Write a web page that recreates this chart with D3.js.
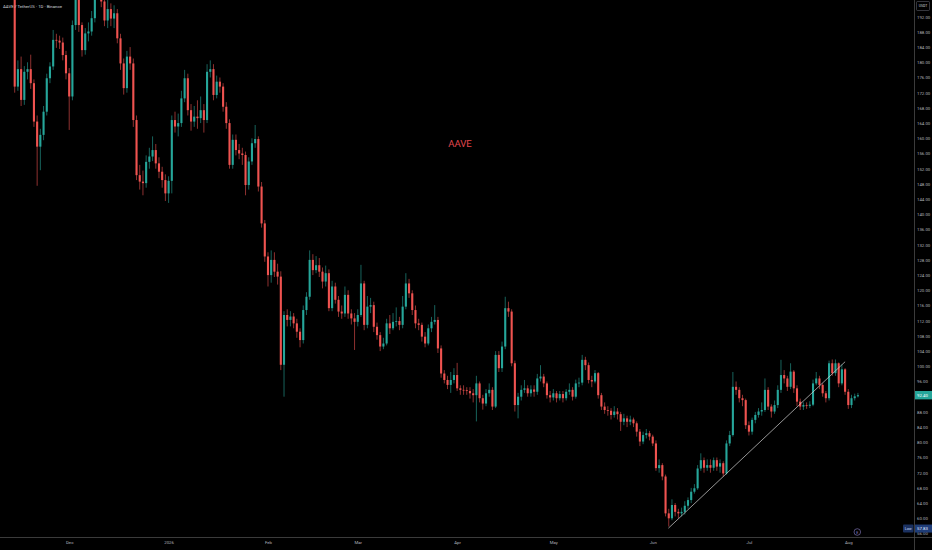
<!DOCTYPE html>
<html>
<head>
<meta charset="utf-8">
<script src="https://cdn.jsdelivr.net/npm/d3@7"></script>
<style>
  body { margin: 0; background: #000; }
  svg { display: block; }
</style>
</head>
<body>
<svg id="chart"></svg>
<script>
//daily candles, first candle is Nov 14 2025, open of each candle = previous close
let startDay = new Date(Date.UTC(2025, 10, 14));
let firstOpen = 200;

let closes = [
  //nov
  173.6,178.2,170.1,177.5,178.2,174.5,164.4,157.8,160.9,167.0,175.8,178.9,185.9,185.7,185.2,181.9,177.1,
  //dec
  171.0,189.8,197.0,189.8,183.2,187.6,188.1,191.6,199.0,203.0,196.0,191.0,194.0,191.5,192.9,186.3,179.7,173.2,181.5,179.7,164.8,150.3,148.6,148.2,153.8,155.2,156.9,153.4,151.2,149.0,145.5,
  //jan
  148.8,164.8,163.1,164.0,170.5,175.8,167.4,164.4,165.7,165.3,167.4,164.8,177.5,178.2,171.4,174.9,173.6,168.3,164.0,153.0,159.6,156.9,156.0,155.6,147.7,153.9,158.7,159.8,147.3,137.6,128.9,
  //feb
  124.0,128.0,124.9,123.6,100.4,113.5,112.2,113.1,111.3,109.1,106.9,114.8,118.3,128.0,125.3,126.6,124.9,122.3,124.5,115.3,121.0,117.5,114.4,113.9,118.8,113.9,112.6,111.7,
  //mar
  113.5,121.8,110.9,115.7,116.1,110.4,108.2,105.2,106.0,111.3,110.0,111.7,111.9,110.9,115.7,121.8,119.2,114.8,111.3,110.9,107.8,106.0,110.0,111.7,112.2,104.7,98.1,96.4,95.1,96.4,97.7,
  //apr
  94.2,93.8,93.7,93.5,92.9,92.4,95.5,91.6,90.2,92.9,93.8,89.4,103.0,99.5,105.2,115.3,114.4,100.8,89.8,92.0,93.8,94.2,92.9,93.9,93.3,96.8,97.3,95.5,92.4,91.8,
  //may
  92.9,91.6,92.7,91.6,93.3,93.8,92.0,95.5,95.7,101.7,100.3,96.4,96.0,98.2,92.4,89.4,88.5,88.3,87.2,88.1,87.4,85.4,86.3,85.4,86.0,85.0,82.8,80.2,81.9,82.4,81.5,
  //jun
  79.7,73.2,74.0,71.0,61.3,60.0,63.5,61.7,61.3,61.7,63.3,64.8,67.0,67.9,73.1,75.3,73.3,74.0,73.3,75.3,73.6,74.5,71.8,79.7,81.9,94.6,93.8,91.6,91.1,84.5,
  //jul
  82.8,85.9,87.2,88.1,88.5,93.8,89.4,88.1,89.8,93.8,97.7,96.8,94.6,98.6,94.2,90.7,89.4,89.8,89.6,89.9,95.5,96.8,95.1,92.9,91.6,100.8,98.2,100.8,95.5,99.2,93.3,
  //aug
  89.8,91.6,92.1,92.4
];

let highs = [
  202,180.5,181.5,179.0,180.0,182.0,175.5,166.0,162.5,168.5,177.0,180.0,188.5,187.5,187.0,186.5,183.0,
  178.5,191.0,199.5,199.0,190.5,189.0,190.5,193.5,201.0,206.0,204.0,197.5,196.5,195.5,195.0,194.0,187.5,181.0,183.0,184.0,181.0,166.0,153.0,151.5,155.5,157.5,160.5,158.5,155.0,152.5,150.5,
  150.0,166.0,167.0,166.5,172.5,178.0,177.0,169.0,168.5,170.0,171.0,169.0,179.5,180.5,179.5,176.5,176.0,174.5,169.5,165.0,161.0,161.0,158.5,157.5,156.5,155.0,160.0,163.5,160.5,148.5,138.5,
  130.0,130.5,130.0,127.0,125.0,114.5,115.0,114.5,114.0,112.5,110.0,116.0,119.5,130.5,129.5,129.0,128.5,126.0,126.5,125.5,122.5,122.0,118.5,116.0,121.0,120.0,115.0,114.0,
  115.0,126.7,122.5,118.5,118.0,117.0,111.5,109.0,107.5,112.5,113.5,114.0,115.5,113.0,118.5,124.5,123.0,120.0,116.0,112.5,111.5,109.0,111.0,113.0,116.1,113.0,105.5,99.0,97.5,98.5,99.5,
  100.9,95.0,95.0,94.5,94.5,94.0,97.5,96.0,92.5,94.0,95.5,94.5,104.0,104.0,106.5,118.3,117.0,115.0,101.5,93.0,95.0,96.4,95.0,95.0,95.0,98.0,100.3,98.0,96.0,93.5,
  94.0,93.5,93.5,93.5,94.0,95.5,94.5,96.5,97.0,103.0,102.5,101.0,97.5,99.0,98.5,93.0,90.5,89.5,89.0,89.5,89.0,88.0,87.5,87.0,87.0,86.5,85.5,83.5,82.8,83.5,83.0,
  82.0,80.5,75.5,74.5,71.5,62.5,65.0,64.0,62.5,62.8,64.5,65.5,68.0,69.0,74.0,77.1,76.0,75.5,75.5,76.0,76.0,75.5,75.0,80.5,83.0,98.5,96.0,94.5,92.5,91.5,
  85.5,86.5,88.0,89.0,90.5,96.8,94.5,90.0,91.0,95.0,101.7,99.0,97.5,100.8,99.0,95.0,91.5,90.5,90.5,90.8,96.5,98.5,97.5,95.5,93.5,101.5,101.8,101.8,101.0,100.5,99.5,
  94.0,92.5,92.8,93.0
];

let lows = [
  172.0,172.5,168.5,168.8,175.5,173.0,163.0,147.5,151.6,159.5,166.0,174.5,178.0,183.8,183.5,180.5,175.5,
  162.2,170.0,188.5,188.0,181.5,182.0,185.5,187.0,190.5,197.5,194.5,189.5,189.0,189.5,189.0,185.0,178.0,171.5,172.0,178.0,163.0,149.0,146.5,145.0,147.0,152.0,154.0,152.0,149.5,147.0,143.5,
  143.0,145.5,161.5,160.5,163.0,169.5,166.0,162.0,163.0,162.5,164.0,161.5,164.0,176.0,170.0,170.5,172.0,167.0,162.5,152.0,152.0,155.5,154.5,153.0,145.0,146.5,153.0,157.5,146.0,136.5,127.5,
  121.0,122.0,123.5,121.5,99.0,92.0,110.5,110.5,110.0,107.5,105.0,106.0,113.5,117.5,124.0,124.5,123.5,120.5,121.0,114.5,114.5,116.5,113.0,112.5,113.0,112.5,111.0,104.3,
  110.5,113.0,109.5,110.0,114.0,109.0,107.0,104.0,104.5,105.5,108.5,109.5,110.5,109.5,110.0,115.0,118.0,113.5,110.0,109.5,106.5,105.0,105.5,109.0,111.0,103.5,97.0,95.5,94.0,93.0,95.5,
  93.5,92.5,92.5,92.5,91.5,90.5,85.5,90.5,88.6,89.5,92.0,88.5,89.0,98.5,98.5,104.5,113.0,100.0,88.1,86.3,91.0,93.0,92.0,92.0,92.0,92.5,96.0,94.5,91.5,90.5,
  91.0,90.5,91.0,90.5,91.0,92.5,91.0,91.5,94.5,95.0,99.0,95.5,94.5,95.5,91.5,88.5,87.5,87.0,86.0,86.5,86.0,83.0,84.5,84.0,84.5,84.0,81.5,79.0,79.5,81.0,80.5,
  79.0,72.5,72.0,70.0,60.5,57.83,59.5,60.5,60.0,60.5,61.0,62.5,64.0,66.5,67.5,72.5,72.0,72.5,72.0,72.5,72.5,72.0,71.0,71.5,79.0,81.5,92.5,90.5,89.5,83.5,
  81.8,82.0,85.0,86.5,87.0,88.0,88.5,86.5,87.5,89.0,93.0,95.5,93.5,94.0,93.0,89.5,88.5,88.5,88.8,89.0,89.5,95.0,94.0,92.0,90.5,91.0,97.5,97.5,94.5,95.0,92.5,
  88.8,89.0,91.0,91.8
];

//price scale ticks and month labels
let priceTicks = [56,60,64,68,72,76,80,84,88,92,96,100,104,108,112,116,120,124,128,132,136,140,144,148,152,156,160,164,168,172,176,180,184,188,192];
let monthTicks = ['2025-12-01','2026-01-01','2026-02-01','2026-03-01','2026-04-01','2026-05-01','2026-06-01','2026-07-01','2026-08-01'];
let monthLabels = ['Dec','2026','Feb','Mar','Apr','May','Jun','Jul','Aug'];

//trend line drawn on the chart (date, price)
let trendDates = ['2026-06-05T21:30:00Z','2026-07-31T00:00:00Z'];
let trendPrices = [57.4, 101.2];

let lastPrice = 92.40, lowPrice = 57.83;

let width = 932, height = 550;
let plotRight = 914, plotBottom = 537;
let upColor = '#26a69a', downColor = '#ef5350';
let font = "Roboto, 'Liberation Sans', sans-serif";

let candles = closes.map(function(c, i) {
  return {
    date: d3.utcDay.offset(startDay, i),
    open: i === 0 ? firstOpen : closes[i-1],
    close: c,
    high: highs[i],
    low: lows[i]
  };
});

let svg = d3.select('#chart')
  .attr('width', width)
  .attr('height', height)
  .style('font-family', font);

svg.append('rect')
  .attr('width', width)
  .attr('height', height)
  .attr('fill', '#000');

//scales
let xScale = d3.scaleUtc()
  .domain([startDay, new Date(Date.UTC(2026, 7, 1))])
  .range([14.7, 848.3]);

let yScale = d3.scaleLinear()
  .domain([55.08, 196.39])
  .range([plotBottom, 0]);

svg.append('clipPath').attr('id', 'plot-clip')
  .append('rect')
  .attr('width', plotRight)
  .attr('height', plotBottom);

let plot = svg.append('g').attr('clip-path', 'url(#plot-clip)');

//watermark style symbol label
plot.append('text')
  .attr('x', 460)
  .attr('y', 146.5)
  .attr('text-anchor', 'middle')
  .attr('font-size', 9.6)
  .attr('fill', '#e2474f')
  .text('AAVE');

//candles
let bodyW = 2.1;
let candle = plot.selectAll('.candle')
  .data(candles)
  .enter().append('g')
  .attr('class', 'candle')
  .attr('fill', function(d){return d.close >= d.open ? upColor : downColor})
  .attr('stroke', function(d){return d.close >= d.open ? upColor : downColor});

candle.append('line')
  .attr('x1', function(d){return xScale(d.date)})
  .attr('x2', function(d){return xScale(d.date)})
  .attr('y1', function(d){return yScale(Math.max(d.high, d.open, d.close))})
  .attr('y2', function(d){return yScale(Math.min(d.low, d.open, d.close))})
  .attr('stroke-width', 0.6);

candle.append('rect')
  .attr('stroke', 'none')
  .attr('x', function(d){return xScale(d.date) - bodyW/2})
  .attr('width', bodyW)
  .attr('y', function(d){return yScale(Math.max(d.open, d.close))})
  .attr('height', function(d){return Math.max(0.7, Math.abs(yScale(d.open) - yScale(d.close)))});

//trend line
let trend = trendDates.map(function(t, i){return {date: new Date(t), price: trendPrices[i]}});
plot.append('path')
  .datum(trend)
  .attr('fill', 'none')
  .attr('stroke', '#d6d6d6')
  .attr('stroke-width', 0.7)
  .attr('d', d3.line()
    .x(function(d){return xScale(d.date)})
    .y(function(d){return yScale(d.price)}));

//axis borders
svg.append('line')
  .attr('x1', plotRight + 0.5).attr('x2', plotRight + 0.5)
  .attr('y1', 0).attr('y2', height)
  .attr('stroke', '#4a4a4a').attr('stroke-width', 0.8);

svg.append('line')
  .attr('x1', 0).attr('x2', width)
  .attr('y1', plotBottom + 0.5).attr('y2', plotBottom + 0.5)
  .attr('stroke', '#4a4a4a').attr('stroke-width', 0.8);

//price axis
let yAxis = d3.axisRight(yScale)
  .tickValues(priceTicks)
  .tickFormat(d3.format('.2f'))
  .tickSize(0)
  .tickPadding(3);

let yAxisG = svg.append('g')
  .attr('transform', 'translate(' + plotRight + ',0)')
  .call(yAxis);
yAxisG.select('.domain').remove();
yAxisG.selectAll('text')
  .attr('font-family', font)
  .attr('font-size', 4.3)
  .attr('fill', '#b2b5be');

//time axis
let xAxis = d3.axisBottom(xScale)
  .tickValues(monthTicks.map(function(t){return new Date(t + 'T00:00:00Z')}))
  .tickFormat(function(d, i){return monthLabels[i]})
  .tickSize(0)
  .tickPadding(4);

let xAxisG = svg.append('g')
  .attr('transform', 'translate(0,' + plotBottom + ')')
  .call(xAxis);
xAxisG.select('.domain').remove();
xAxisG.selectAll('text')
  .attr('font-family', font)
  .attr('font-size', 4.3)
  .attr('fill', '#b2b5be');

//header
svg.append('text')
  .attr('x', 3)
  .attr('y', 8)
  .attr('font-size', 4.3)
  .attr('fill', '#d1d4dc')
  .text('AAVE / TetherUS · 1D · Binance');

//currency box
svg.append('rect')
  .attr('x', 916.5).attr('y', 1.5)
  .attr('width', 13).attr('height', 9)
  .attr('rx', 1)
  .attr('fill', 'none')
  .attr('stroke', '#6a6d78')
  .attr('stroke-width', 0.5);
svg.append('text')
  .attr('x', 923).attr('y', 7.3)
  .attr('text-anchor', 'middle')
  .attr('font-size', 3.4)
  .attr('fill', '#d1d4dc')
  .text('USDT');

//last price label
let lastY = yScale(lastPrice);
svg.append('rect')
  .attr('x', plotRight + 1).attr('y', lastY - 4.2)
  .attr('width', width - plotRight - 1).attr('height', 8.4)
  .attr('fill', upColor);
svg.append('text')
  .attr('x', plotRight + 3).attr('y', lastY + 1.6)
  .attr('font-size', 4.3)
  .attr('fill', '#fff')
  .text(lastPrice.toFixed(2));

//low label
let lowY = yScale(lowPrice) + 2;
svg.append('rect')
  .attr('x', 903).attr('y', lowY - 4)
  .attr('width', 10.5).attr('height', 8)
  .attr('rx', 1)
  .attr('fill', '#1b3160');
svg.append('text')
  .attr('x', 908.2).attr('y', lowY + 1.5)
  .attr('text-anchor', 'middle')
  .attr('font-size', 3.8)
  .attr('fill', '#c9dcff')
  .text('Low');
svg.append('rect')
  .attr('x', plotRight + 1).attr('y', lowY - 4)
  .attr('width', width - plotRight - 1).attr('height', 8)
  .attr('fill', '#1f3d78');
svg.append('text')
  .attr('x', plotRight + 3).attr('y', lowY + 1.5)
  .attr('font-size', 4.3)
  .attr('fill', '#e3edff')
  .text(lowPrice.toFixed(2));

//small event marker near the time axis
svg.append('circle')
  .attr('cx', 857.3).attr('cy', 532)
  .attr('r', 3.3)
  .attr('fill', '#000')
  .attr('stroke', '#8c7fc8')
  .attr('stroke-width', 0.6);
svg.append('text')
  .attr('x', 857.3).attr('y', 533.5)
  .attr('text-anchor', 'middle')
  .attr('font-size', 3.6)
  .attr('fill', '#8c7fc8')
  .text('E');
</script>
</body>
</html>
